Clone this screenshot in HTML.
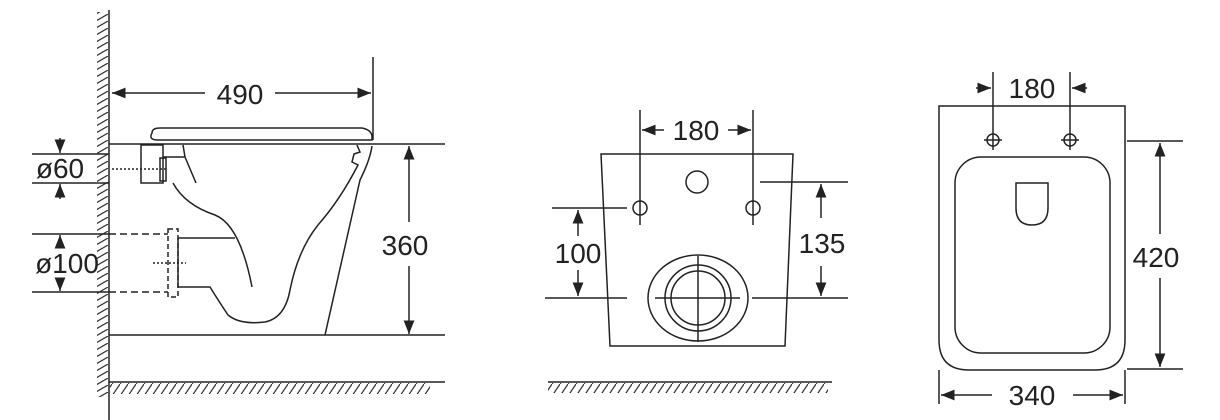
<!DOCTYPE html>
<html><head><style>body{margin:0;background:#fff}svg{display:block}text{font-family:"Liberation Sans",sans-serif;font-size:28px;fill:#222}</style></head><body>
<svg width="1220" height="420" viewBox="0 0 1220 420" xmlns="http://www.w3.org/2000/svg">
<defs>
<pattern id="hw" width="12" height="7" patternUnits="userSpaceOnUse"><path d="M0,7 L12,0" stroke="#333" stroke-width="1.2"/></pattern>
<pattern id="hg" width="8" height="12" patternUnits="userSpaceOnUse"><path d="M0,12 L8,0" stroke="#333" stroke-width="1.2"/></pattern>
<marker id="a" viewBox="0 0 10 10" refX="10" refY="5" markerWidth="9" markerHeight="9" orient="auto-start-reverse"><path d="M0,1 L10,5 L0,9z" fill="#222"/></marker>
</defs>
<g stroke="#222" stroke-width="1.5" fill="none">
<rect x="97" y="12" width="11" height="385" fill="url(#hw)" stroke="none"/>
<line x1="109" y1="10" x2="109" y2="420"/>
<line x1="109" y1="144" x2="445" y2="144"/>
<line x1="109" y1="335" x2="445" y2="335"/>
<line x1="109" y1="382" x2="445" y2="382"/>
<rect x="110" y="383" width="320" height="11" fill="url(#hg)" stroke="none"/>
<line x1="373" y1="57" x2="373" y2="140"/>
<line x1="112" y1="93" x2="205" y2="93" marker-start="url(#a)"/>
<line x1="275" y1="93" x2="371" y2="93" marker-end="url(#a)"/>
<path d="M152,133 Q152,128 160,128 L362,128 Q372,130 372,137 L372,140 L158,140 Q148,140 152,133z"/>
<line x1="409" y1="146" x2="409" y2="222" marker-start="url(#a)"/>
<line x1="409" y1="266" x2="409" y2="334" marker-end="url(#a)"/>
<line x1="32" y1="154" x2="109" y2="154"/><line x1="32" y1="183" x2="109" y2="183"/>
<line x1="60" y1="138" x2="60" y2="153" marker-end="url(#a)"/>
<line x1="60" y1="199" x2="60" y2="184" marker-end="url(#a)"/>
<line x1="32" y1="234" x2="109" y2="234"/><line x1="32" y1="292" x2="109" y2="292"/>
<line x1="60" y1="245" x2="60" y2="235" marker-end="url(#a)"/>
<line x1="60" y1="280" x2="60" y2="291" marker-end="url(#a)"/>
<path d="M109,234 H168 M109,292 H168" stroke-dasharray="7,4"/>
<rect x="168" y="229" width="10" height="68" stroke-dasharray="5,3"/>
<line x1="153" y1="263" x2="186" y2="263" stroke-dasharray="2,2"/>
<line x1="112" y1="169" x2="166" y2="169" stroke-dasharray="2,2"/>
<rect x="141" y="145" width="22" height="38"/>
<rect x="160" y="158" width="6" height="23"/>
<path d="M183,145 L185,157 L163,157 M185,157 L196,183"/>
<path d="M173,183 Q185,205 215,215 Q240,225 252,287"/>
<path d="M178,238 H235 M178,238 V287 H210 Q218,300 228,315 Q240,325 265,322 Q285,318 290,290 Q298,250 318,225 Q340,200 358,165 L352,162 L354,154 L360,152 L357,145"/>
<path d="M372,146 Q370,160 360,180 L325,335"/>
<path d="M601,154 H793 L785,346 H610 Z"/>
<circle cx="697" cy="182" r="11"/>
<circle cx="640" cy="208" r="7"/><circle cx="753" cy="208" r="7"/>
<line x1="640" y1="110" x2="640" y2="225"/><line x1="753" y1="110" x2="753" y2="225"/>
<line x1="642" y1="130" x2="664" y2="130" marker-start="url(#a)"/>
<line x1="728" y1="130" x2="751" y2="130" marker-end="url(#a)"/>
<ellipse cx="698" cy="298" rx="50" ry="43"/>
<circle cx="698" cy="298" r="33"/><circle cx="698" cy="298" r="27"/>
<line x1="655" y1="298" x2="740" y2="298"/><line x1="698" y1="256" x2="698" y2="342"/>
<line x1="552" y1="208" x2="627" y2="208"/><line x1="545" y1="298" x2="627" y2="298"/>
<line x1="578" y1="210" x2="578" y2="236" marker-start="url(#a)"/>
<line x1="578" y1="270" x2="578" y2="296" marker-end="url(#a)"/>
<line x1="760" y1="182" x2="848" y2="182"/><line x1="752" y1="298" x2="848" y2="298"/>
<line x1="821" y1="184" x2="821" y2="218" marker-start="url(#a)"/>
<line x1="821" y1="266" x2="821" y2="296" marker-end="url(#a)"/>
<line x1="548" y1="382" x2="832" y2="382"/>
<rect x="548" y="383" width="280" height="10" fill="url(#hg)" stroke="none"/>
<path d="M939,106 H1125 V340 Q1125,370 1095,370 H969 Q939,370 939,340 Z"/>
<rect x="955" y="157" width="155" height="196" rx="26"/>
<line x1="993" y1="72" x2="993" y2="150"/><line x1="1070" y1="72" x2="1070" y2="150"/>
<circle cx="993" cy="140" r="6"/><circle cx="1070" cy="140" r="6"/>
<line x1="984" y1="140" x2="1002" y2="140"/><line x1="1061" y1="140" x2="1079" y2="140"/>
<line x1="976" y1="88" x2="991" y2="88" marker-end="url(#a)"/>
<line x1="1087" y1="88" x2="1072" y2="88" marker-end="url(#a)"/>
<path d="M1016,183 H1048 V208 Q1048,225 1032,225 Q1016,225 1016,208 Z"/>
<line x1="1127" y1="141" x2="1183" y2="141"/><line x1="1127" y1="369" x2="1183" y2="369"/>
<line x1="1160" y1="143" x2="1160" y2="234" marker-start="url(#a)"/>
<line x1="1160" y1="278" x2="1160" y2="367" marker-end="url(#a)"/>
<line x1="939" y1="370" x2="939" y2="404"/><line x1="1125" y1="370" x2="1125" y2="404"/>
<line x1="941" y1="395" x2="992" y2="395" marker-start="url(#a)"/>
<line x1="1073" y1="395" x2="1123" y2="395" marker-end="url(#a)"/>
</g>
<text x="240" y="104" text-anchor="middle">490</text>
<text x="405" y="255" text-anchor="middle">360</text>
<text x="60" y="178" text-anchor="middle">ø60</text>
<text x="67" y="273" text-anchor="middle">ø100</text>
<text x="696" y="140" text-anchor="middle">180</text>
<text x="578" y="263" text-anchor="middle">100</text>
<text x="822" y="253" text-anchor="middle">135</text>
<text x="1032" y="98" text-anchor="middle">180</text>
<text x="1156" y="267" text-anchor="middle">420</text>
<text x="1032" y="405" text-anchor="middle">340</text>
</svg>
</body></html>
